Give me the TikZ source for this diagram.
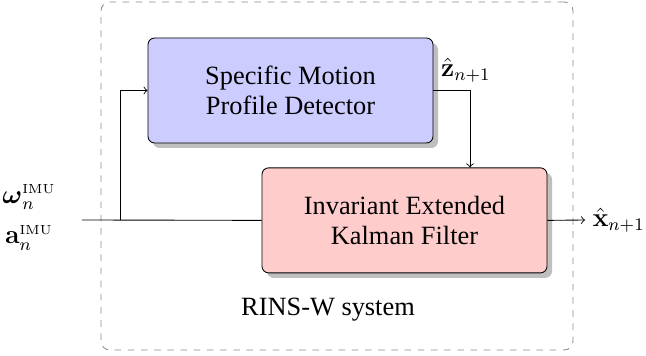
\documentclass[tikz,border=0pt]{standalone}
\usepackage{amsmath}
\usepackage[no-math]{fontspec}
\setmainfont{Liberation Serif}
\usepackage{tikz}
\usetikzlibrary{positioning}
\usetikzlibrary{shadows}

\begin{document}
\begin{tikzpicture}[align=center,font=\fontsize{12}{13.5}\selectfont,
		block/.style={draw,rounded corners=3pt,minimum width=4.56cm,minimum height=1.68cm,drop shadow={shadow xshift=.08cm,shadow yshift=-.08cm,fill=black!25,opacity=1}},
		system/.style={draw=black!45,dashed,rounded corners=4pt,minimum width=7.552cm,minimum height=5.568cm}]
		\useasboundingbox (0,0) rectangle (10.336,5.696);
		% System frame
		\node [system] at (5.392,2.88) (sys) {};
		\node at (5.248,0.736) (syslabel) {RINS-W system};
		
		% Blocks
		\node [block, fill=blue!20] at (4.648,4.248) (smpd) {Specific Motion\\Profile Detector};
		\node [block, fill=red!20, below=.384cm of smpd, xshift=1.824cm] (iekf) {Invariant Extended\\Kalman Filter};
		
		% Signals
		\coordinate (in) at (1.312,2.176);
		\coordinate (branch) at (1.92,2.176);
		\coordinate (zturn) at (7.52,4.248);
		\coordinate (out) at (9.36,2.176);
		\node [left=.3cm of in, yshift=.04cm] (imu) {$\boldsymbol{\omega}_n^{\scriptscriptstyle\mathrm{IMU}}$\\[5pt]$\mathbf{a}_n^{\scriptscriptstyle\mathrm{IMU}}$};
		\node [above right=0pt and 0pt of smpd.east] (zhat) {$\hat{\mathbf{z}}_{n+1}$};
		\node [right=0pt of out] (xhat) {$\hat{\mathbf{x}}_{n+1}$};
		
		% Connections
		\draw (in) -- (iekf.west); \draw [->] (branch) |- (smpd.west);
		\draw [->] (smpd.east) -- (zturn) -- (zturn |- iekf.north);
		\draw [->] (iekf.east) -- (out);
\end{tikzpicture}
\end{document}
